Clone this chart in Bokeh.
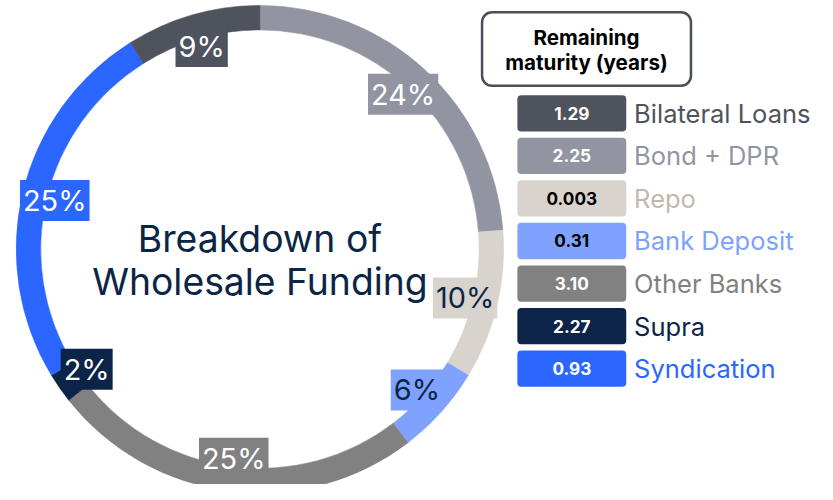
import math
from bokeh.plotting import figure
from bokeh.models import ColumnDataSource, Range1d, BoxAnnotation
from bokeh.core.properties import value
from bokeh.embed import file_html
from bokeh.resources import INLINE

# ---------------- data ----------------
categories = ["Bilateral Loans", "Bond + DPR", "Repo", "Bank Deposit",
              "Other Banks", "Supra", "Syndication"]
shares = [9, 24, 10, 6, 25, 2, 25]                 # % of wholesale funding
maturity = ["1.29", "2.25", "0.003", "0.31", "3.10", "2.27", "0.93"]  # years
colors = ["#4f535d", "#9295a1", "#d8d3cd", "#7ea2fe", "#818181", "#0b2447", "#2a66ff"]
name_colors = ["#4f535d", "#9295a1", "#c2b8ac", "#7ea2fe", "#818181", "#0b2447", "#2a66ff"]
pct_text_colors = ["white", "white", "#0b2545", "#0b2545", "white", "white", "white"]
box_text_colors = ["white", "white", "black", "black", "white", "white", "white"]
title_lines = ["Breakdown of", "Wholesale Funding"]
legend_title = ["Remaining", "maturity (years)"]

FONT = "Inter"
W, H = 817, 484
S = W / 833.0                 # screen px per layout unit


def px(n):
    return f"{n * S:.1f}px"


p = figure(width=W, height=H, output_backend="svg", toolbar_location=None,
           x_range=Range1d(0, 833), y_range=Range1d(-H / S, 0),
           min_border=0, outline_line_color=None)
p.axis.visible = False
p.grid.visible = False
p.background_fill_color = "white"

# ---------------- donut ----------------
cx, cy = 264.5, -253.5
r_out, r_in = 248.5, 223.5
order = list(range(1, len(categories))) + [0]     # clockwise from 12 o'clock: Bond first
total = float(sum(shares))
starts, ends, mids, cols = [], [], [], []
cum = 0.0
for i in order:
    a0 = cum / total * 2 * math.pi
    cum += shares[i]
    a1 = cum / total * 2 * math.pi
    starts.append(math.pi / 2 - a0)
    ends.append(math.pi / 2 - a1)
    mids.append(math.pi / 2 - (a0 + a1) / 2)
    cols.append(colors[i])

ring = ColumnDataSource(dict(start=starts, end=ends, color=cols))
p.annular_wedge(x=cx, y=cy, inner_radius=r_in, outer_radius=r_out,
                start_angle="start", end_angle="end", direction="clock",
                fill_color="color", line_color="color", line_width=0.5, source=ring)

r_lab = 215
lab = ColumnDataSource(dict(
    x=[cx + r_lab * math.cos(m) for m in mids],
    y=[cy + r_lab * math.sin(m) for m in mids],
    text=[f"{shares[i]}%" for i in order],
    bg=[colors[i] for i in order],
    tc=[pct_text_colors[i] for i in order],
))
p.text(x="x", y="y", text="text", source=lab, text_font=value(FONT),
       text_font_size=px(29.5), text_align="center", text_baseline="middle",
       text_color="tc", background_fill_color="bg", padding=3)

# centre title
p.text(x=[cx, cx], y=[-243, -287], text=title_lines, text_font=value(FONT),
       text_font_size=px(38), text_align="center", text_baseline="middle",
       text_color="#0b2545")

# ---------------- legend ----------------
p.add_layout(BoxAnnotation(left=491, right=704, top=-12, bottom=-87,
                           fill_color="white", fill_alpha=1.0,
                           line_color="#4a4e57", line_alpha=1.0, line_width=2.5,
                           border_radius=10, level="underlay"))
p.text(x=[597.5, 597.5], y=[-38, -63], text=legend_title, text_font=value(FONT),
       text_font_size=px(21), text_font_style="bold", text_align="center",
       text_baseline="middle", text_color="black")

row0, step = 115.0, 43.4
for k in range(len(categories)):
    yc = row0 + k * step
    p.add_layout(BoxAnnotation(left=527, right=638, top=-(yc - 18.5), bottom=-(yc + 18.5),
                               fill_color=colors[k], fill_alpha=1.0, line_color=None,
                               border_radius=4, level="underlay"))

leg = ColumnDataSource(dict(
    y=[-(row0 + k * step) for k in range(len(categories))],
    val=maturity, name=categories, tc=box_text_colors, nc=name_colors,
))
p.text(x=582.5, y="y", text="val", source=leg, text_font=value(FONT),
       text_font_size=px(17.5), text_font_style="bold", text_align="center",
       text_baseline="middle", text_color="tc")
p.text(x=646, y="y", text="name", source=leg, text_font=value(FONT),
       text_font_size=px(26), text_align="left", text_baseline="middle",
       text_color="nc")

open("out.html", "w").write(file_html(p, INLINE))
